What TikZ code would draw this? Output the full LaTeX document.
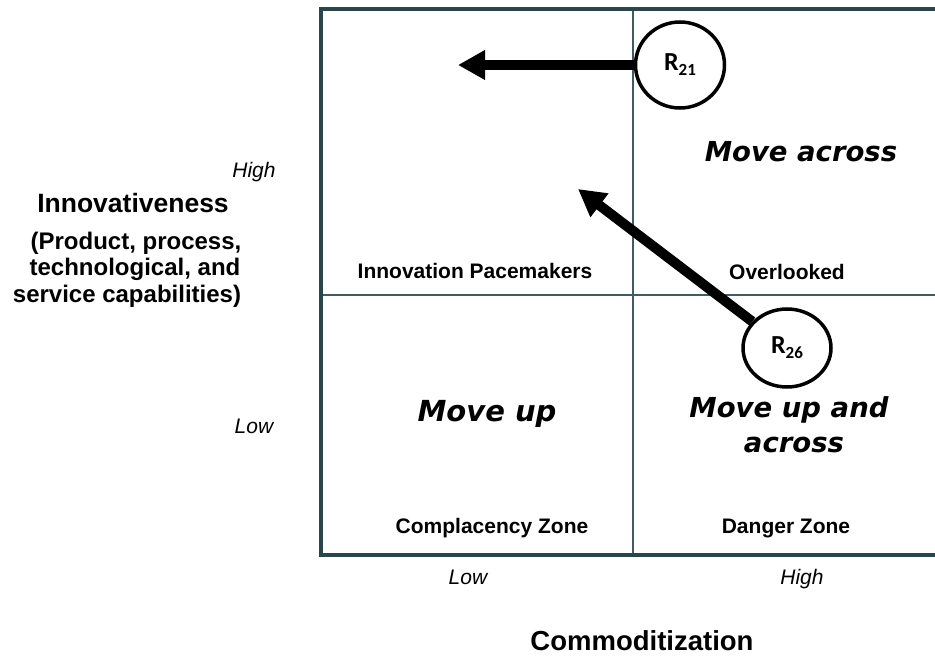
\documentclass[tikz,border=0pt]{standalone}
\usepackage{fontspec}
\setmainfont{Liberation Sans}
\newfontfamily\verdfont{DejaVu Sans}
\newfontfamily\calfont{Carlito}
\usetikzlibrary{arrows.meta,shapes.geometric}
\definecolor{framecol}{RGB}{40,70,76}
\definecolor{divcol}{RGB}{65,90,100}
\begin{document}
\begin{tikzpicture}[x=1pt,y=-1pt,
  lbl/.style={font=\fontsize{21}{25}\selectfont\bfseries, anchor=base},
  axlbl/.style={font=\fontsize{21}{25}\selectfont\itshape, anchor=base},
  ytitle/.style={font=\fontsize{26.5}{30}\selectfont\bfseries, anchor=base},
  ysub/.style={font=\fontsize{24}{28}\selectfont\bfseries, anchor=base},
  movelbl/.style={font=\verdfont\fontsize{27.5}{33}\selectfont\bfseries\itshape, anchor=base},
  circ/.style={ellipse, draw, fill=white, line width=3.5pt, inner sep=0pt,
    font=\calfont\bfseries\fontsize{26}{26}\selectfont},
  bigarrow/.style={line width=10pt, -{Triangle[length=27pt,width=28pt]}}
]
\useasboundingbox (0,0) rectangle (935,658);

% dividers
\draw[divcol, line width=1.7pt] (633.3,8.7) -- (633.3,555.3);
\draw[divcol, line width=1.7pt] (321.3,295) -- (935,295);
% frame
\draw[framecol, line width=4pt, line join=miter] (935,8.7) -- (321.3,8.7) -- (321.3,555.3) -- (935,555.3);

% circles
\node[circ, minimum width=89pt, minimum height=86pt] (r21) at (680,65)
  {R{\fontsize{17}{17}\selectfont\raisebox{-5pt}{21}}};
\node[circ, minimum width=88pt, minimum height=78pt] (r26) at (787,348)
  {R{\fontsize{17}{17}\selectfont\raisebox{-5pt}{26}}};

% arrows
\coordinate (t21) at (458,65);
\coordinate (t26) at (578,189);
\draw[bigarrow] (r21) -- (t21);
\draw[bigarrow] (r26) -- (t26);

% y axis
\node[axlbl] (hiY) at (254,178) {High};
\node[axlbl] (loY) at (254,433) {Low};
\node[ytitle] (innov) at (133,212) {Innovativeness};
\node[ysub] (prod) at (136,249) {(Product, process,};
\node[ysub] (tech) at (135,275) {technological, and};
\node[ysub] (serv) at (127,302) {service capabilities)};

% x axis
\node[axlbl] (loX) at (468,584) {Low};
\node[axlbl] (hiX) at (802,584) {High};
\node[ytitle, font=\fontsize{27.5}{32}\selectfont\bfseries] (comm) at (642,650) {Commoditization};

% quadrant labels
\node[lbl] (pace) at (475,278) {Innovation Pacemakers};
\node[lbl] (over) at (787,279) {Overlooked};
\node[lbl] (compl) at (492,533) {Complacency Zone};
\node[lbl] (danger) at (786,533) {Danger Zone};

\node[movelbl] (across) at (801,162) {Move across};
\node[movelbl, font=\verdfont\fontsize{29}{34}\selectfont\bfseries\itshape] (up) at (487,421) {Move up};
\node[movelbl] (upacross1) at (789,417) {Move up and};
\node[movelbl] (upacross2) at (794,452) {across};
\end{tikzpicture}
\end{document}
